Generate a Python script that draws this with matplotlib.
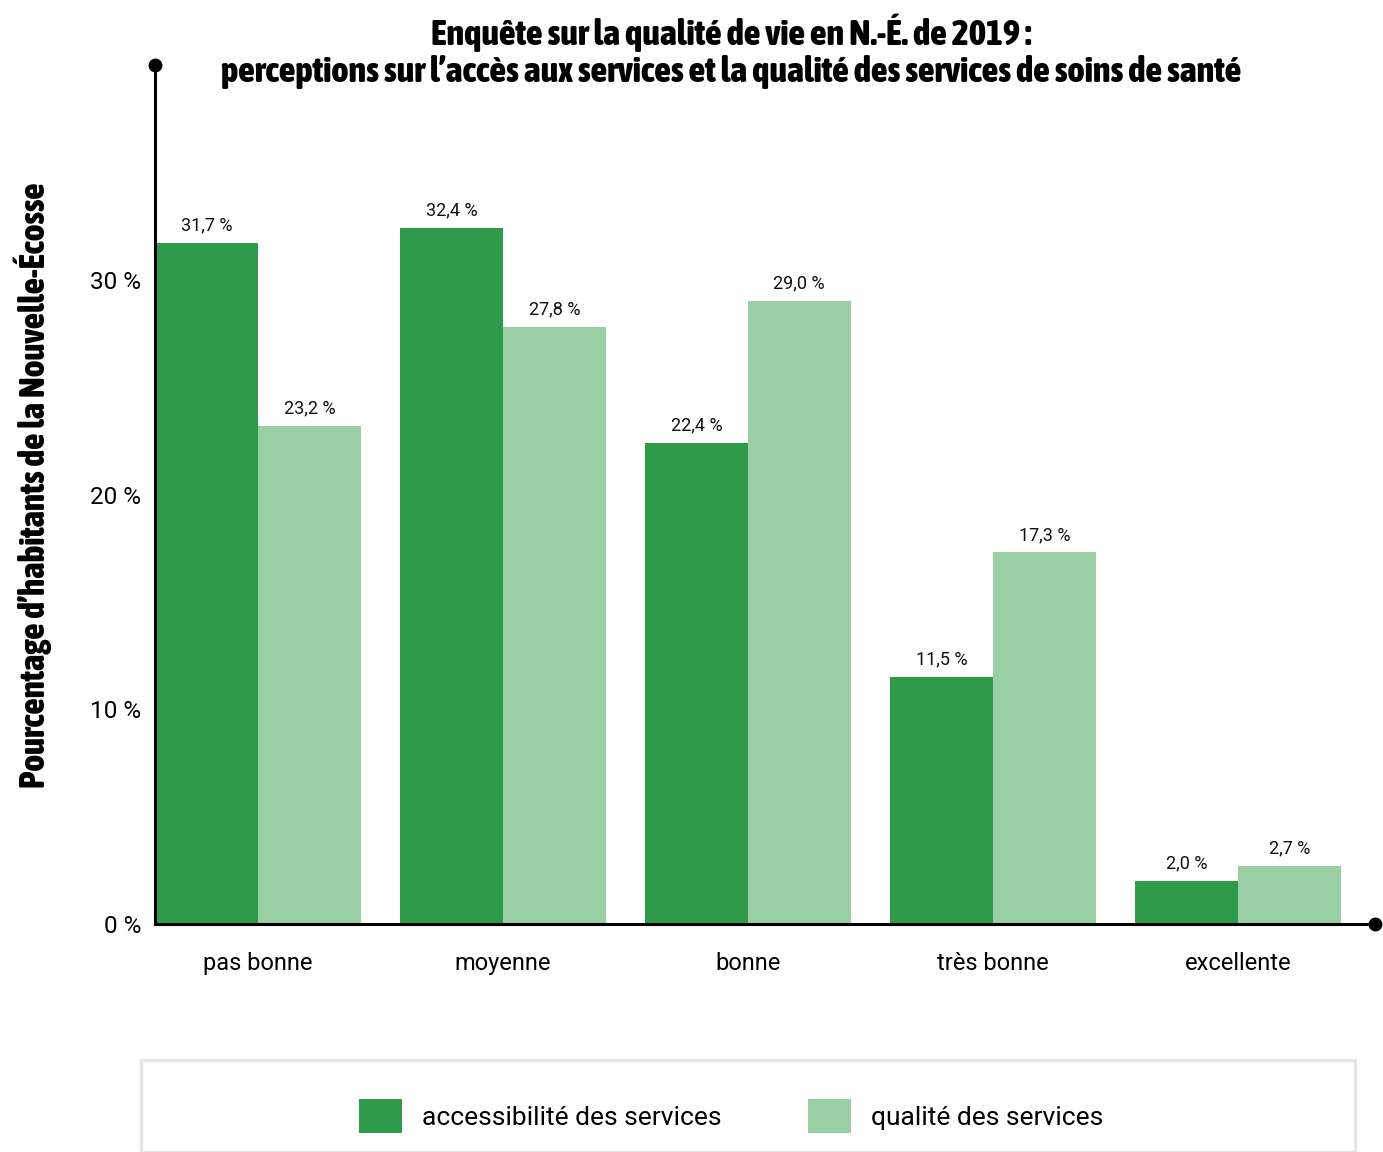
import numpy as np
import matplotlib
matplotlib.use("Agg")
import matplotlib.pyplot as plt
from matplotlib.patches import Rectangle
from matplotlib import font_manager

categories = ["pas bonne", "moyenne", "bonne", "très bonne", "excellente"]
accessibilite = [31.7, 32.4, 22.4, 11.5, 2.0]
qualite = [23.2, 27.8, 29.0, 17.3, 2.7]
series_names = ["accessibilité des services", "qualité des services"]
yticks = [0, 10, 20, 30]

DARK = "#2e9a4a"
LIGHT = "#99cfa3"

names = set(f.name for f in font_manager.fontManager.ttflist)
BODY = "Roboto" if "Roboto" in names else "DejaVu Sans"

# look for a narrow bold face for the title
NARROW = "DejaVu Sans"
NARROW_W = "bold"
best = -1
for f in font_manager.fontManager.ttflist:
    if "Narrow" in f.name or "Condensed" in f.name or f.stretch == "condensed":
        wt = f.weight if isinstance(f.weight, int) else font_manager.weight_dict.get(f.weight, 400)
        if f.style == "normal" and wt > best and wt <= 800:
            best = wt
            NARROW = f.name
            NARROW_W = wt

plt.rcParams['font.family'] = [BODY, 'DejaVu Sans']

fig = plt.figure(figsize=(13.83, 11.52), dpi=100)
ax = fig.add_axes([155 / 1383, 1 - 924 / 1152, 1220 / 1383, 859 / 1152])

x = np.arange(len(categories))
w = 0.42
b1 = ax.bar(x - w / 2, accessibilite, w, color=DARK, label=series_names[0])
b2 = ax.bar(x + w / 2, qualite, w, color=LIGHT, label=series_names[1])

for bars, vals in [(b1, accessibilite), (b2, qualite)]:
    for r, v in zip(bars, vals):
        ax.text(r.get_x() + r.get_width() / 2, v + 0.4,
                ("%.1f" % v).replace(".", ",") + " %",
                ha="center", va="bottom", fontsize=13, color="#111111")

ax.set_xlim(-0.42, 4.56)
ax.set_ylim(0, 40)
ax.set_yticks(yticks)
ax.set_yticklabels([str(t) + " %" for t in yticks], fontsize=17.5)
ax.set_xticks(x)
ax.set_xticklabels(categories, fontsize=17)
ax.tick_params(axis="both", length=0)
ax.tick_params(axis="y", pad=10)
ax.tick_params(axis="x", pad=20)

for s in ["top", "right"]:
    ax.spines[s].set_visible(False)
for s in ["left", "bottom"]:
    ax.spines[s].set_linewidth(2.2)
    ax.spines[s].set_color("black")

# dots at the axis ends
ax.plot([-0.42], [40], marker="o", markersize=9, color="black", clip_on=False)
ax.plot([4.56], [0], marker="o", markersize=9, color="black", clip_on=False)

tkw = dict(fontweight=NARROW_W, fontstretch="condensed", family=[NARROW, 'DejaVu Sans'])
t1 = fig.text(731 / 1383, 1 - 33 / 1152, "Enquête sur la qualité de vie en N.-É. de 2019 :",
              ha="center", va="center", fontsize=21, **tkw)
t2 = fig.text(731 / 1383, 1 - 72 / 1152,
              "perceptions sur l’accès aux services et la qualité des services de soins de santé",
              ha="center", va="center", fontsize=21, **tkw)
yl = fig.text(33 / 1383, 1 - 485 / 1152, "Pourcentage d’habitants de la Nouvelle-Écosse",
              rotation=90, ha="center", va="center", fontsize=21, **tkw)

# fit the narrow texts to the widths seen in the chart
fig.canvas.draw()
r = fig.canvas.get_renderer()
wt2 = t2.get_window_extent(r).width
size = 21 * 1022 / wt2
t1.set_fontsize(size)
t2.set_fontsize(size)
hl = yl.get_window_extent(r).height
yl.set_fontsize(21 * 606 / hl)

# legend frame
fig.patches.append(Rectangle((141 / 1383, 0), 1214 / 1383, (1152 - 1072) / 1152 + 0.01,
                             transform=fig.transFigure, facecolor="white",
                             edgecolor="#e6e6e6", linewidth=2.5))
fig.legend(handles=[b1, b2], loc="center", bbox_to_anchor=(731 / 1383, 1 - 1116 / 1152),
           ncol=2, frameon=False, fontsize=19, handlelength=1.62, handleheight=1.62,
           handletextpad=0.75, columnspacing=3.3)

fig.savefig("out.png", dpi=100)
